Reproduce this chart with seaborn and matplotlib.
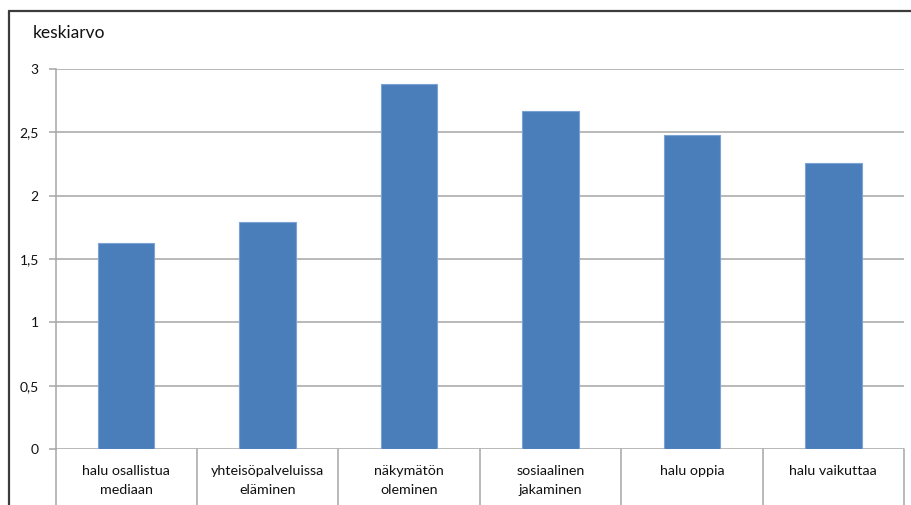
import matplotlib
matplotlib.use("Agg")
import matplotlib.pyplot as plt
import matplotlib.transforms as mtransforms
from matplotlib.lines import Line2D
import seaborn as sns
import pandas as pd

# Data
categories = [
    "halu osallistua\nmediaan",
    "yhteisöpalveluissa\neläminen",
    "näkymätön\noleminen",
    "sosiaalinen\njakaminen",
    "halu oppia",
    "halu vaikuttaa",
]
values = [1.63, 1.79, 2.88, 2.67, 2.48, 2.26]
y_ticks = [0, 0.5, 1, 1.5, 2, 2.5, 3]
y_tick_labels = ["0", "0,5", "1", "1,5", "2", "2,5", "3"]
y_title = "keskiarvo"

sns.set_theme(style="white")
plt.rcParams["font.family"] = ["Lato", "DejaVu Sans"]

W, H = 911, 505
fig = plt.figure(figsize=(W / 100, H / 100), dpi=100)
fig.patch.set_facecolor("white")

# plot area in pixel coordinates
left_px, right_px, top_px, zero_px = 55.5, 904, 68.7, 449.3
ax = fig.add_axes([left_px / W, 1 - zero_px / H,
                   (right_px - left_px) / W, (zero_px - top_px) / H])

df = pd.DataFrame({"kategoria": categories, "keskiarvo": values})
bar_color = "#4a7ebb"
sns.barplot(data=df, x="kategoria", y="keskiarvo", ax=ax, width=0.4,
            color=bar_color, edgecolor="#7aa2d3", linewidth=0.8,
            saturation=1, zorder=3)

grid_color = "#a6a6a6"
text_color = "#111111"
ax.set_ylim(0, 3)
ax.set_xlim(-0.5, len(categories) - 0.5)
ax.set_yticks(y_ticks)
ax.set_yticklabels(y_tick_labels, fontsize=10, color=text_color)
for y in y_ticks:
    ax.axhline(y, color=grid_color, linewidth=1.1, zorder=1)

for side in ["top", "right", "bottom"]:
    ax.spines[side].set_visible(False)
ax.spines["left"].set_color(grid_color)
ax.spines["left"].set_linewidth(1.1)
ax.tick_params(axis="y", which="both", left=True, length=5, width=1.1,
               color=grid_color, pad=7)
ax.tick_params(axis="x", length=0, pad=11)
ax.set_xticks(range(len(categories)))
ax.set_xticklabels(categories, fontsize=10.3, color=text_color, linespacing=1.7,
                   va="top")
ax.set_xlabel("")
ax.set_ylabel("")

# category table dividers below the axis
trans = mtransforms.blended_transform_factory(ax.transData, ax.transAxes)
depth = (H - zero_px) / (zero_px - top_px) + 0.01
for i in range(len(categories) + 1):
    ax.add_line(Line2D([i - 0.5, i - 0.5], [0, -depth], transform=trans,
                       color=grid_color, linewidth=1.1, clip_on=False))

# axis title
fig.text(33 / W, 1 - 33 / H, y_title, fontsize=12.5, color=text_color,
         ha="left", va="center")

# outer chart border
border = "#3c3c3c"
fig.add_artist(Line2D([8.5 / W, 8.5 / W], [0, 1 - 10.5 / H],
                      transform=fig.transFigure, color=border, linewidth=1.6))
fig.add_artist(Line2D([8.5 / W, 1], [1 - 10.5 / H, 1 - 10.5 / H],
                      transform=fig.transFigure, color=border, linewidth=1.6))

fig.savefig("out.png", dpi=100, facecolor="white")
